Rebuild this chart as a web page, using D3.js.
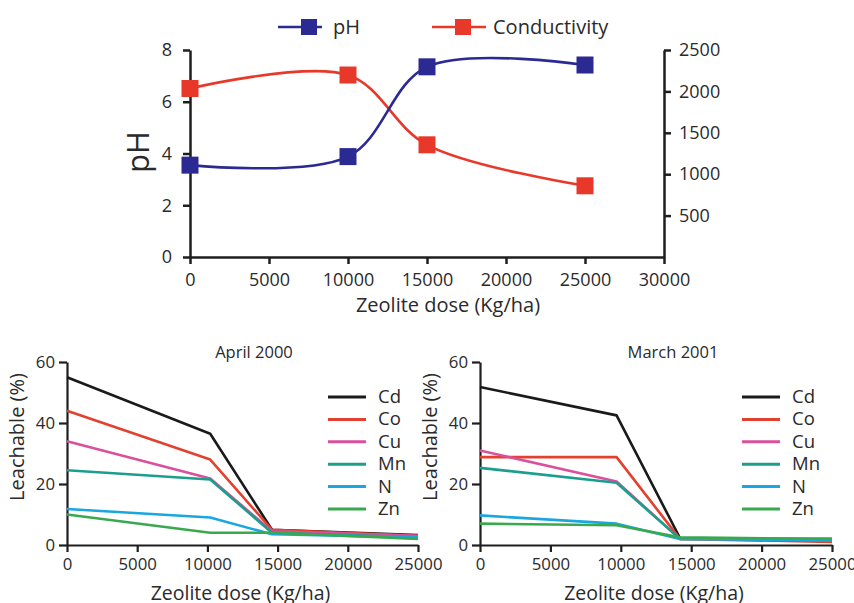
<!DOCTYPE html>
<html>
<head>
<meta charset="utf-8">
<script src="https://cdn.jsdelivr.net/npm/d3@7"></script>
<style>
  html, body { margin: 0; padding: 0; background: #fff; }
  svg { display: block; font-family: "Open Sans", "Noto Sans", sans-serif; }
  .axis path, .axis line { stroke: #1e1e1e; }
  .axis text { fill: #2a2a2a; }
</style>
</head>
<body>
<svg id="chart" width="854" height="603"></svg>
<script>
// ---- Top panel: pH and conductivity vs zeolite dose ----
const doses = [0, 10000, 15000, 25000];
const phValues = [3.55, 3.88, 7.35, 7.42];
const conductivityValues = [2035, 2198, 1355, 860];
const topXTicks = [0, 5000, 10000, 15000, 20000, 25000, 30000];
const phTicks = [0, 2, 4, 6, 8];
const conductivityTicks = [500, 1000, 1500, 2000, 2500];

// ---- Bottom panels: leachable fraction of each element ----
const elements = ["Cd", "Co", "Cu", "Mn", "N", "Zn"];
const elementColors = ["#1a1a1a", "#e2412f", "#d9509c", "#1b9e8e", "#1aa7e0", "#3aa84f"];

const aprilDoses = [0, 10200, 14600, 25000];
const aprilCd = [55, 36.5, 5, 3.3];
const aprilCo = [44, 28, 5, 3];
const aprilCu = [34, 21.8, 4.5, 3];
const aprilMn = [24.5, 21.5, 4, 2.5];
const aprilN = [11.8, 9, 3.5, 2.5];
const aprilZn = [10, 4, 4, 2];

const marchDoses = [0, 9700, 14200, 25000];
const marchCd = [51.8, 42.5, 2.3, 1.5];
const marchCo = [28.8, 28.8, 2, 1];
const marchCu = [31, 20.8, 2, 1.8];
const marchMn = [25.3, 20.4, 2, 2];
const marchN = [9.7, 7, 2, 1.5];
const marchZn = [7, 6.5, 2.5, 2];

const leachTicks = [0, 20, 40, 60];
const leachDoseTicks = [0, 5000, 10000, 15000, 20000, 25000];

const svg = d3.select("#chart");
const ink = "#2a2a2a";

function styleAxis(g, width, fontSize) {
  g.attr("class", "axis");
  g.selectAll("path").attr("stroke-width", width);
  g.selectAll("line").attr("stroke-width", width);
  g.selectAll("text").attr("font-size", fontSize).attr("font-family", "\"Open Sans\", sans-serif");
}

// ================= Top panel =================
const topPanel = svg.append("g");
const x = d3.scaleLinear().domain([0, 30000]).range([190, 664]);
const yPh = d3.scaleLinear().domain([0, 8]).range([257, 50]);
const yCond = d3.scaleLinear().domain([0, 2500]).range([257, 50]);

topPanel.append("g")
  .attr("transform", "translate(0,257)")
  .call(d3.axisBottom(x).tickValues(topXTicks).tickFormat(d3.format("d")).tickSize(7).tickSizeOuter(0).tickPadding(9))
  .call(g => styleAxis(g, 2.5, 18));

topPanel.append("g")
  .attr("transform", "translate(190,0)")
  .call(d3.axisLeft(yPh).tickValues(phTicks).tickSize(7).tickSizeOuter(0).tickPadding(11))
  .call(g => styleAxis(g, 2.5, 18));

topPanel.append("g")
  .attr("transform", "translate(664,0)")
  .call(d3.axisRight(yCond).tickValues(conductivityTicks).tickFormat(d3.format("d")).tickSize(7).tickSizeOuter(0).tickPadding(8))
  .call(g => styleAxis(g, 2.5, 18));

topPanel.append("text")
  .attr("transform", "translate(149,152) rotate(-90)")
  .attr("text-anchor", "middle")
  .attr("font-size", 31)
  .attr("fill", ink)
  .text("pH");

topPanel.append("text")
  .attr("x", 448).attr("y", 312)
  .attr("text-anchor", "middle")
  .attr("font-size", 20)
  .attr("fill", ink)
  .text("Zeolite dose (Kg/ha)");

const phColor = "#2b2a93";
const condColor = "#e8382a";
const smooth = d3.curveCatmullRom.alpha(0.5);

const condLine = d3.line().x((d, i) => x(doses[i])).y(d => yCond(d)).curve(smooth);
const phLine = d3.line().x((d, i) => x(doses[i])).y(d => yPh(d)).curve(smooth);

topPanel.append("path").datum(conductivityValues)
  .attr("d", condLine).attr("fill", "none").attr("stroke", condColor).attr("stroke-width", 2.6);
topPanel.append("path").datum(phValues)
  .attr("d", phLine).attr("fill", "none").attr("stroke", phColor).attr("stroke-width", 2.6);

const mk = 17;
topPanel.selectAll("rect.cond").data(conductivityValues).join("rect")
  .attr("class", "cond")
  .attr("x", (d, i) => x(doses[i]) - mk / 2).attr("y", d => yCond(d) - mk / 2)
  .attr("width", mk).attr("height", mk).attr("fill", condColor);
topPanel.selectAll("rect.ph").data(phValues).join("rect")
  .attr("class", "ph")
  .attr("x", (d, i) => x(doses[i]) - mk / 2).attr("y", d => yPh(d) - mk / 2)
  .attr("width", mk).attr("height", mk).attr("fill", phColor);

// Legend
const topLegend = [
  { label: "pH", color: phColor, x0: 278, x1: 322, mx: 309, tx: 333 },
  { label: "Conductivity", color: condColor, x0: 432, x1: 486, mx: 463, tx: 493 }
];
topLegend.forEach(d => {
  const g = topPanel.append("g");
  g.append("line").attr("x1", d.x0).attr("x2", d.x1).attr("y1", 27).attr("y2", 27)
    .attr("stroke", d.color).attr("stroke-width", 2.6);
  g.append("rect").attr("x", d.mx - 8).attr("y", 19).attr("width", 16).attr("height", 16)
    .attr("fill", d.color);
  g.append("text").attr("x", d.tx).attr("y", 34).attr("font-size", 20).attr("fill", ink).text(d.label);
});

// ================= Bottom panels =================
function leachPanel(opts) {
  const g = svg.append("g");
  const lx = d3.scaleLinear().domain([0, 25000]).range([opts.left, opts.right]);
  const ly = d3.scaleLinear().domain([0, 60]).range([545, 362]);

  g.append("g")
    .attr("transform", "translate(0,545)")
    .call(d3.axisBottom(lx).tickValues(leachDoseTicks).tickFormat(d3.format("d")).tickSize(7).tickSizeOuter(0).tickPadding(6))
    .call(a => styleAxis(a, 2.2, 16.8));
  g.append("g")
    .attr("transform", `translate(${opts.left},0)`)
    .call(d3.axisLeft(ly).tickValues(leachTicks).tickSize(8).tickSizeOuter(0).tickPadding(4))
    .call(a => styleAxis(a, 2.2, 16.8));

  g.append("text")
    .attr("x", opts.titleX).attr("y", 358)
    .attr("text-anchor", "middle").attr("font-size", 16.5).attr("fill", ink)
    .text(opts.title);

  g.append("text")
    .attr("transform", `translate(${opts.left - 43},437) rotate(-90)`)
    .attr("text-anchor", "middle").attr("font-size", 20).attr("fill", ink)
    .text("Leachable (%)");

  g.append("text")
    .attr("x", (opts.left + opts.right) / 2 - 2).attr("y", 600)
    .attr("text-anchor", "middle").attr("font-size", 19.5).attr("fill", ink)
    .text("Zeolite dose (Kg/ha)");

  const line = d3.line().x((d, i) => lx(opts.doses[i])).y(d => ly(d));
  opts.series.forEach((vals, k) => {
    g.append("path").datum(vals)
      .attr("d", line).attr("fill", "none")
      .attr("stroke", elementColors[k]).attr("stroke-width", 2.6)
      .attr("stroke-linejoin", "round");
  });

  elements.forEach((name, k) => {
    const yy = 397 + k * 22.4;
    g.append("line").attr("x1", opts.legX).attr("x2", opts.legX + 38).attr("y1", yy).attr("y2", yy)
      .attr("stroke", elementColors[k]).attr("stroke-width", 3);
    g.append("text").attr("x", opts.legX + 50).attr("y", yy + 6)
      .attr("font-size", 18.5).attr("fill", ink).text(name);
  });
}

leachPanel({
  left: 67, right: 418, title: "April 2000", titleX: 254, legX: 328,
  doses: aprilDoses,
  series: [aprilCd, aprilCo, aprilCu, aprilMn, aprilN, aprilZn]
});
leachPanel({
  left: 480, right: 832, title: "March 2001", titleX: 673, legX: 742,
  doses: marchDoses,
  series: [marchCd, marchCo, marchCu, marchMn, marchN, marchZn]
});
</script>
</body>
</html>
